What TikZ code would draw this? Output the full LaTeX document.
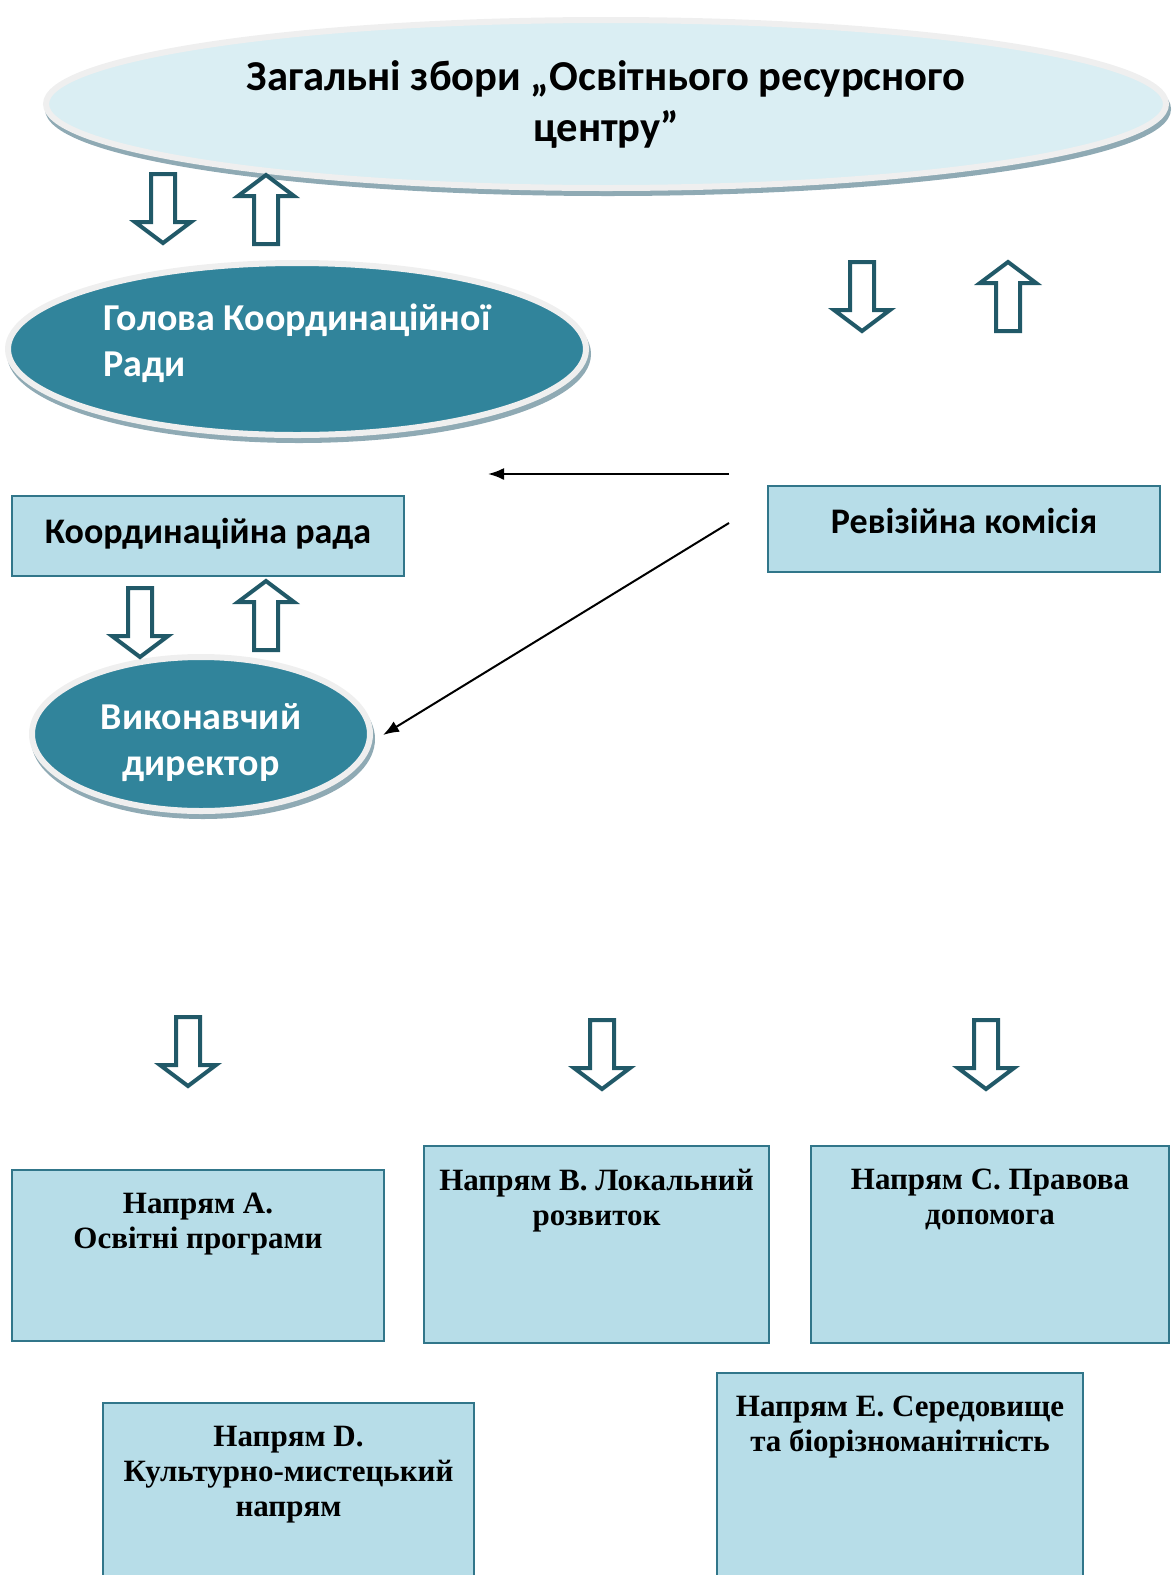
\documentclass[tikz,border=0pt]{standalone}
\usepackage{fontspec}
\setmainfont{Liberation Serif}
\newfontfamily\calfont{Carlito}
\usetikzlibrary{shapes.geometric,shadows,arrows.meta}

\definecolor{ovalfill}{HTML}{DAEEF3}
\definecolor{tealfill}{HTML}{31849B}
\definecolor{boxfill}{HTML}{B7DDE8}
\definecolor{boxline}{HTML}{31768A}
\definecolor{arrowline}{HTML}{215968}
\definecolor{rimgray}{HTML}{EFEFEF}
\definecolor{shadowcol}{HTML}{8FAAB4}

\tikzset{
  oval/.style={ellipse, draw=rimgray, line width=3pt, inner sep=0pt,
    general shadow={draw=shadowcol, fill=shadowcol, line width=3pt,
      shadow xshift=1pt, shadow yshift=-2.5pt}},
  bigoval/.style={oval, fill=ovalfill, align=center,
    font=\calfont\bfseries\fontsize{21.3}{25.5}\selectfont},
  darkoval/.style={oval, fill=tealfill, text=white,
    font=\calfont\bfseries\fontsize{19}{23}\selectfont},
  unitbox/.style={draw=boxline, line width=1pt, fill=boxfill, inner sep=0pt, anchor=north west},
  toptext/.style={anchor=north, inner sep=0pt, yshift=-11.5pt,
    font=\calfont\bfseries\fontsize{18}{22}\selectfont},
  lowtext/.style={anchor=north, inner sep=0pt, yshift=-12pt, align=center,
    font=\bfseries\fontsize{15.5}{17.5}\selectfont},
  hollow/.style={draw=arrowline, line width=2pt, fill=white, line join=miter},
  link/.style={line width=1pt, -{Latex[length=8pt,width=6pt]}},
  pics/down/.style={code={\draw[hollow] (-12,2) -- (12,2) -- (12,50) -- (28,50) -- (0,71) -- (-28,50) -- (-12,50) -- cycle;}},
  pics/up/.style={code={\draw[hollow] (0,2) -- (28,23) -- (12,23) -- (12,71) -- (-12,71) -- (-12,23) -- (-28,23) -- cycle;}}
}

\begin{document}
\begin{tikzpicture}[x=0.5pt, y=-0.5pt]
\useasboundingbox (0,0) rectangle (1172,1575);
\clip (0,0) rectangle (1172,1575);

% governing bodies
\node[bigoval, minimum width=560pt, minimum height=84pt] (zbory) at (606,104)
  {Загальні збори „Освітнього ресурсного\\центру”};
\node[darkoval, minimum width=289pt, minimum height=86pt, align=left] (holova) at (297,349)
  {Голова Координаційної\\Ради\rule[-9pt]{0pt}{9pt}};
\node[darkoval, minimum width=169pt, minimum height=77pt, align=center] (vykon) at (201,734)
  {\rule{0pt}{21.5pt}Виконавчий\\директор};

\node[unitbox, minimum width=196pt, minimum height=40pt,
  label={[toptext]north:Координаційна рада}] (rada) at (11,495) {};
\node[unitbox, minimum width=196pt, minimum height=43pt,
  label={[toptext]north:Ревізійна комісія}] (reviz) at (767,485) {};

% directions
\node[unitbox, minimum width=186pt, minimum height=85.5pt,
  label={[lowtext]north:Напрям А.\\Освітні програми}] (napA) at (11,1169) {};
\node[unitbox, minimum width=172.5pt, minimum height=98.5pt,
  label={[lowtext]north:Напрям В. Локальний\\розвиток}] (napB) at (423,1145) {};
\node[unitbox, minimum width=179pt, minimum height=98.5pt,
  label={[lowtext]north:Напрям С. Правова\\допомога}] (napC) at (810,1145) {};
\node[unitbox, minimum width=185.5pt, minimum height=94pt,
  label={[lowtext]north:Напрям D.\\Культурно-мистецький\\напрям}] (napD) at (102,1402) {};
\node[unitbox, minimum width=183pt, minimum height=109pt,
  label={[lowtext]north:Напрям Е. Середовище\\та біорізноманітність}] (napE) at (716,1372) {};

% block arrows
\pic at (163,172) {down};
\pic at (266,173) {up};
\pic at (862,260) {down};
\pic at (1008,260) {up};
\pic at (140,586) {down};
\pic at (266,579) {up};
\pic at (188,1015) {down};
\pic at (602,1018) {down};
\pic at (986,1018) {down};

% control lines
\coordinate (ctrl1) at (729,474);
\coordinate (ctrl1end) at (488,474);
\coordinate (ctrl2) at (729,523);
\coordinate (ctrl2end) at (383,735);
\draw[link] (ctrl1) -- (ctrl1end);
\draw[link] (ctrl2) -- (ctrl2end);
\end{tikzpicture}
\end{document}
